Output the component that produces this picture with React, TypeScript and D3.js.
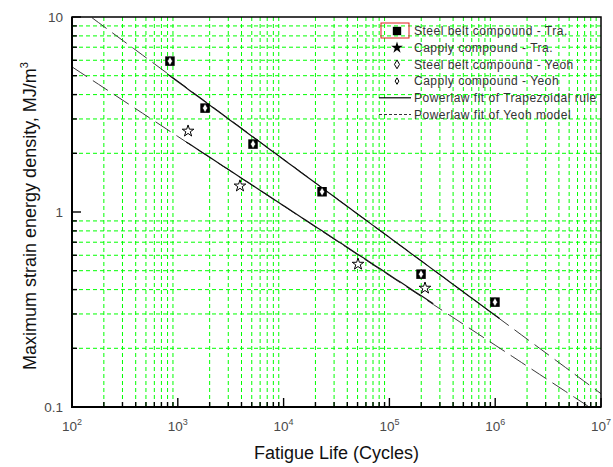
import React from "react";
import * as d3 from "d3";

// Fatigue life (cycles) and maximum strain energy density (MJ/m^3)
const steelCycles = [843, 1810, 5140, 23100, 199000, 995000];
const steelEnergy = [5.94, 3.41, 2.23, 1.27, 0.48, 0.345];
const capplyCycles = [1250, 3870, 50500, 217000];
const capplyEnergy = [2.6, 1.36, 0.54, 0.407];

// Power-law fits S = C * N^b
const traSteelFit = { C: 73.6, b: -0.3995, range: [800, 1.1e6] };
const traCapplyFit = { C: 28.4, b: -0.3552, range: [1200, 2.6e5] };
const yeohSteelFit = { C: 74.7, b: -0.4007, range: [1e2, 1e7] };
const yeohCapplyFit = { C: 28.7, b: -0.3568, range: [1e2, 1e7] };

const xTickExponents = [2, 3, 4, 5, 6, 7];
const yTickValues = [0.1, 1, 10];
const yTickLabels = ["0.1", "1", "10"];

const legendLabels = [
  "Steel belt compound - Tra.",
  "Capply compound - Tra.",
  "Steel belt compound - Yeoh",
  "Capply compound - Yeoh",
  "Powerlaw fit of Trapezoidal rule",
  "Powerlaw fit of Yeoh model",
];

const W = 613;
const H = 467;
const L = 72, R = 601, T = 17, B = 407;
const FONT = "Arial, 'Liberation Sans', Helvetica, sans-serif";

export default function App() {
  const x = d3.scaleLog().domain([1e2, 1e7]).range([L, R]);
  const y = d3.scaleLog().domain([0.1, 10]).range([B, T]);

  const xMinor: number[] = [];
  for (let e = 2; e < 7; e++) for (let k = 2; k <= 9; k++) xMinor.push(k * 10 ** e);
  const yMinor: number[] = [];
  for (let e = -1; e < 1; e++) for (let k = 2; k <= 9; k++) yMinor.push(k * 10 ** e);

  const fitPath = (f: { C: number; b: number; range: number[] }) => {
    const pts: [number, number][] = [];
    const [a, c] = f.range.map(Math.log10);
    const n = 60;
    for (let i = 0; i <= n; i++) {
      const N = 10 ** (a + ((c - a) * i) / n);
      pts.push([N, f.C * N ** f.b]);
    }
    return d3.line<[number, number]>().x((d) => x(d[0])).y((d) => y(d[1]))(pts) || "";
  };

  const square = d3.symbol().type(d3.symbolSquare).size(90)() || "";
  const star = d3.symbol().type(d3.symbolStar).size(42)() || "";
  const diamondBig = d3.symbol().type(d3.symbolDiamond).size(22)() || "";
  const diamondSmall = d3.symbol().type(d3.symbolDiamond).size(12)() || "";

  const steel = steelCycles.map((n, i) => [n, steelEnergy[i]]);
  const capply = capplyCycles.map((n, i) => [n, capplyEnergy[i]]);

  const legX = 397, legTextX = 414, legY0 = 31, legDy = 16.7;

  return (
    <svg
      width={W}
      height={H}
      style={{ position: "absolute", left: 0, top: 0, background: "#fff" }}
      fontFamily={FONT}
    >
      <defs>
        <clipPath id="plotClip">
          <rect x={L} y={T} width={R - L} height={B - T} />
        </clipPath>
      </defs>
      <rect width={W} height={H} fill="#fff" />

      {/* minor grid */}
      <g stroke="#00ff00" strokeWidth={1} strokeDasharray="4,3">
        {xMinor.map((v) => (
          <line key={"gx" + v} x1={x(v)} x2={x(v)} y1={T} y2={B} />
        ))}
        {yMinor.map((v) => (
          <line key={"gy" + v} x1={L} x2={R} y1={y(v)} y2={y(v)} />
        ))}
      </g>

      {/* fitted curves */}
      <g clipPath="url(#plotClip)" fill="none">
        {[yeohSteelFit, yeohCapplyFit].map((f, i) => (
          <path key={"y" + i} d={fitPath(f)} stroke="#3a3a3a" strokeWidth={1} strokeDasharray="18,7" />
        ))}
        {[traSteelFit, traCapplyFit].map((f, i) => (
          <path key={"t" + i} d={fitPath(f)} stroke="#111" strokeWidth={1.2} />
        ))}
      </g>

      {/* steel belt: Tra. squares with Yeoh diamonds on top */}
      {steel.map(([n, s], i) => (
        <g key={"s" + i} transform={`translate(${x(n)},${y(s)})`}>
          <path d={square} fill="#000" />
          <path d={diamondBig} fill="#fff" stroke="#000" strokeWidth={0.6} />
        </g>
      ))}
      {/* capply compound points */}
      {capply.map(([n, s], i) => (
        <g key={"c" + i} transform={`translate(${x(n)},${y(s)})`}>
          <path d={star} fill="#fff" stroke="#000" strokeWidth={1} />
        </g>
      ))}

      {/* frame */}
      <rect x={L} y={T} width={R - L} height={B - T} fill="none" stroke="#000" strokeWidth={1.5} />
      <line x1={L} x2={L} y1={T} y2={B + 1} stroke="#000" strokeWidth={2} />
      <line x1={L - 1} x2={R} y1={B} y2={B} stroke="#000" strokeWidth={2} />

      {/* ticks */}
      <g stroke="#000" strokeWidth={1.4}>
        {xMinor.map((v) => (
          <line key={"tx" + v} x1={x(v)} x2={x(v)} y1={B} y2={B - 5} />
        ))}
        {xTickExponents.map((e) => (
          <line key={"TX" + e} x1={x(10 ** e)} x2={x(10 ** e)} y1={B} y2={B - 9} />
        ))}
        {yMinor.map((v) => (
          <line key={"ty" + v} x1={L} x2={L + 5} y1={y(v)} y2={y(v)} />
        ))}
        {yTickValues.map((v) => (
          <line key={"TY" + v} x1={L} x2={L + 9} y1={y(v)} y2={y(v)} />
        ))}
      </g>

      {/* tick labels */}
      <g fill="#4a4a4a" fontSize={13.5}>
        {yTickValues.map((v, i) => (
          <text key={"ly" + v} x={L - 9} y={y(v)} dy="0.36em" textAnchor="end">
            {yTickLabels[i]}
          </text>
        ))}
        {xTickExponents.map((e) => (
          <text key={"lx" + e} x={x(10 ** e)} y={431} textAnchor="middle">
            10
            <tspan fontSize={9} dy={-6}>
              {e}
            </tspan>
          </text>
        ))}
      </g>

      {/* axis titles */}
      <text x={(L + R) / 2} y={459} textAnchor="middle" fontSize={18} fill="#111">
        Fatigue Life (Cycles)
      </text>
      <text
        transform={`translate(36,${(T + B) / 2 + 4}) rotate(-90)`}
        textAnchor="middle"
        fontSize={18}
        fill="#111"
      >
        Maximum strain energy density, MJ/m
        <tspan fontSize={11} dy={-8}>
          3
        </tspan>
      </text>

      {/* legend */}
      <g fontSize={12} fill="#333" letterSpacing={0.5}>
        <rect x={381} y={legY0 - 8} width={28} height={15} fill="none" stroke="#e02020" strokeWidth={1} />
        <path d={d3.symbol().type(d3.symbolSquare).size(70)() || ""} transform={`translate(${legX},${legY0})`} fill="#000" />
        <path d={star} transform={`translate(${legX},${legY0 + legDy})`} fill="#000" />
        <path d={diamondBig} transform={`translate(${legX},${legY0 + 2 * legDy})`} fill="#fff" stroke="#000" strokeWidth={1} />
        <path d={diamondSmall} transform={`translate(${legX},${legY0 + 3 * legDy})`} fill="#fff" stroke="#000" strokeWidth={1} />
        <line x1={379} x2={411} y1={legY0 + 4 * legDy} y2={legY0 + 4 * legDy} stroke="#000" strokeWidth={1.2} />
        <line x1={379} x2={411} y1={legY0 + 5 * legDy} y2={legY0 + 5 * legDy} stroke="#333" strokeWidth={1} strokeDasharray="3,2" />
        {legendLabels.map((t, i) => (
          <text key={t} x={legTextX} y={legY0 + i * legDy} dy="0.36em">
            {t}
          </text>
        ))}
      </g>
    </svg>
  );
}
